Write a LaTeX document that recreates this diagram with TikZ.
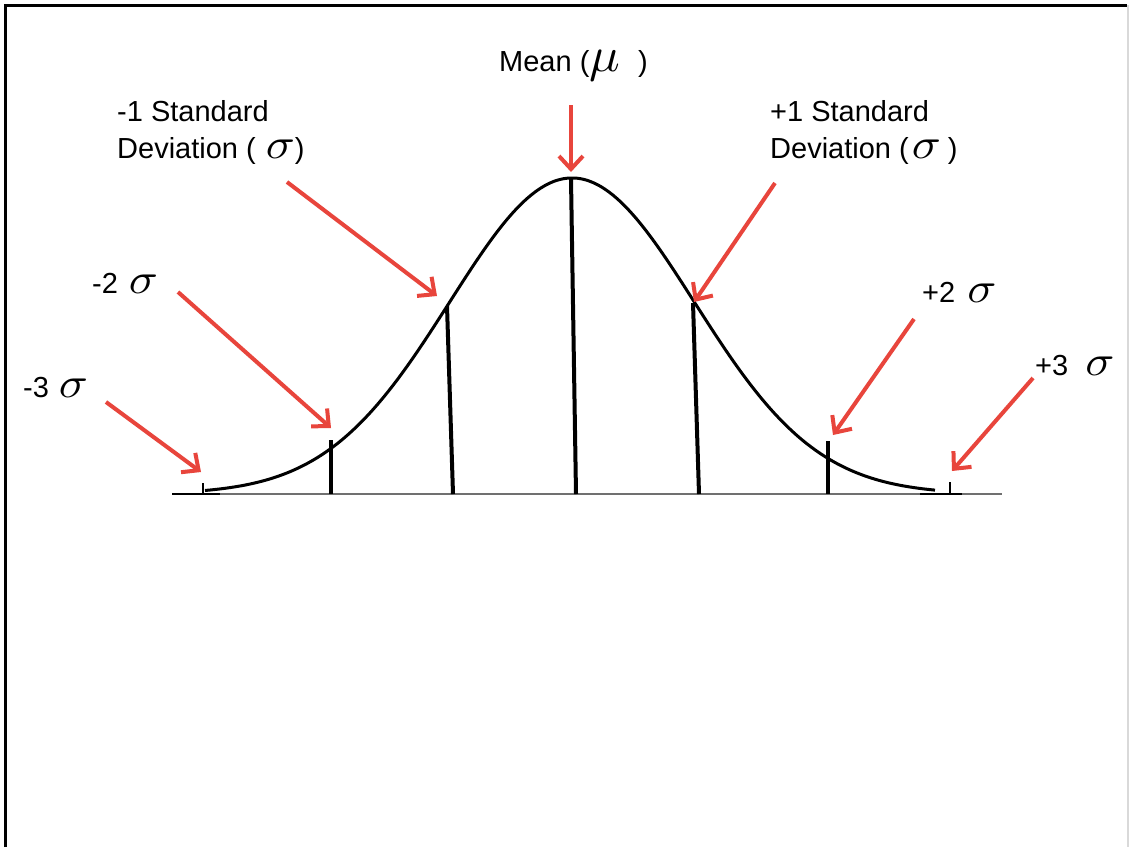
\documentclass[tikz,border=0pt]{standalone}
\usepackage{fontspec}
\setmainfont{Liberation Sans}
\usetikzlibrary{arrows.meta}
\definecolor{arrred}{HTML}{E8453C}
\definecolor{axisgray}{HTML}{707070}
\newcommand{\sig}{\scalebox{4.8}[4.3]{\fontsize{10}{12}\selectfont$\sigma$}}
\newcommand{\mmu}{\scalebox{5.1}[4.9]{\fontsize{10}{12}\selectfont$\mu$}}
\tikzset{
  lbl/.style={anchor=base west, inner sep=0pt, font=\fontsize{29}{31}\selectfont},
  redarrow/.style={draw=arrred, line width=4pt, -{Straight Barb[length=13pt,width=24pt,line width=4pt]}},
  sdline/.style={line width=4pt, black},
  smalltick/.style={line width=2pt, black}
}
\begin{document}
\begin{tikzpicture}[x=1pt,y=-1pt]
\useasboundingbox (0,0) rectangle (1129,847);
\fill[white] (0,0) rectangle (1129,847);
% frame
\draw[line width=3pt] (5,847) -- (5,5) -- (1127,5);
\draw[black!15, line width=1.5pt] (1128,5) -- (1128,847);

% axis
\draw[axisgray, line width=2.5pt] (172,494) -- (1002,494);
\draw[black, line width=2.5pt] (172,494) -- (220,494);
\draw[black, line width=2.5pt] (920,494) -- (962,494);

% curve
\draw[black, line width=3pt, smooth] plot[domain=205:935, samples=160] (\x, {494-316*exp(-((\x-572)/122.5)^2/2)});

% coordinates on the curve / axis
\coordinate (m3top) at (203,483); \coordinate (m3bot) at (203,494);
\coordinate (m2top) at (331,440); \coordinate (m2bot) at (331,494);
\coordinate (m1top) at (447,306); \coordinate (m1bot) at (453,494);
\coordinate (mutop) at (571,179); \coordinate (mubot) at (576,494);
\coordinate (p1top) at (693,303); \coordinate (p1bot) at (699,494);
\coordinate (p2top) at (828,441); \coordinate (p2bot) at (828,494);
\coordinate (p3top) at (950,482); \coordinate (p3bot) at (950,494);

\draw[smalltick] (m3top) -- (m3bot);
\draw[sdline] (m2top) -- (m2bot);
\draw[sdline] (m1top) -- (m1bot);
\draw[sdline] (mutop) -- (mubot);
\draw[sdline] (p1top) -- (p1bot);
\draw[sdline] (p2top) -- (p2bot);
\draw[smalltick] (p3top) -- (p3bot);

% labels
\node[lbl] (lmean) at (499,71) {Mean (\mmu\hspace{18pt})};
\node[lbl] (lm1a) at (117,121) {-1 Standard};
\node[lbl] (lm1b) at (117,158) {Deviation (\hspace{10pt}\sig)};
\node[lbl] (lp1a) at (770,121) {+1 Standard};
\node[lbl] (lp1b) at (770,158) {Deviation (\hspace{3pt}\sig\hspace{7pt})};
\node[lbl] (lm2) at (92,293) {-2\hspace{11pt}\sig};
\node[lbl] (lm3) at (23,397) {-3\hspace{10pt}\sig};
\node[lbl] (lp2) at (922,302) {+2\hspace{12pt}\sig};
\node[lbl] (lp3) at (1035,375) {+3\hspace{17pt}\sig};

% arrow endpoints
\coordinate (amean) at (571,105); \coordinate (tmean) at (571,172);
\coordinate (am1) at (287,182);   \coordinate (tm1) at (437,296);
\coordinate (ap1) at (775,183);   \coordinate (tp1) at (694,302);
\coordinate (am2) at (178,292);   \coordinate (tm2) at (331,428);
\coordinate (ap2) at (914,319);   \coordinate (tp2) at (833,435);
\coordinate (am3) at (106,402);   \coordinate (tm3) at (201,472);
\coordinate (ap3) at (1033,378);  \coordinate (tp3) at (952,471);

\draw[redarrow] (amean) -- (tmean);
\draw[redarrow] (am1) -- (tm1);
\draw[redarrow] (ap1) -- (tp1);
\draw[redarrow] (am2) -- (tm2);
\draw[redarrow] (ap2) -- (tp2);
\draw[redarrow] (am3) -- (tm3);
\draw[redarrow] (ap3) -- (tp3);
\end{tikzpicture}
\end{document}
